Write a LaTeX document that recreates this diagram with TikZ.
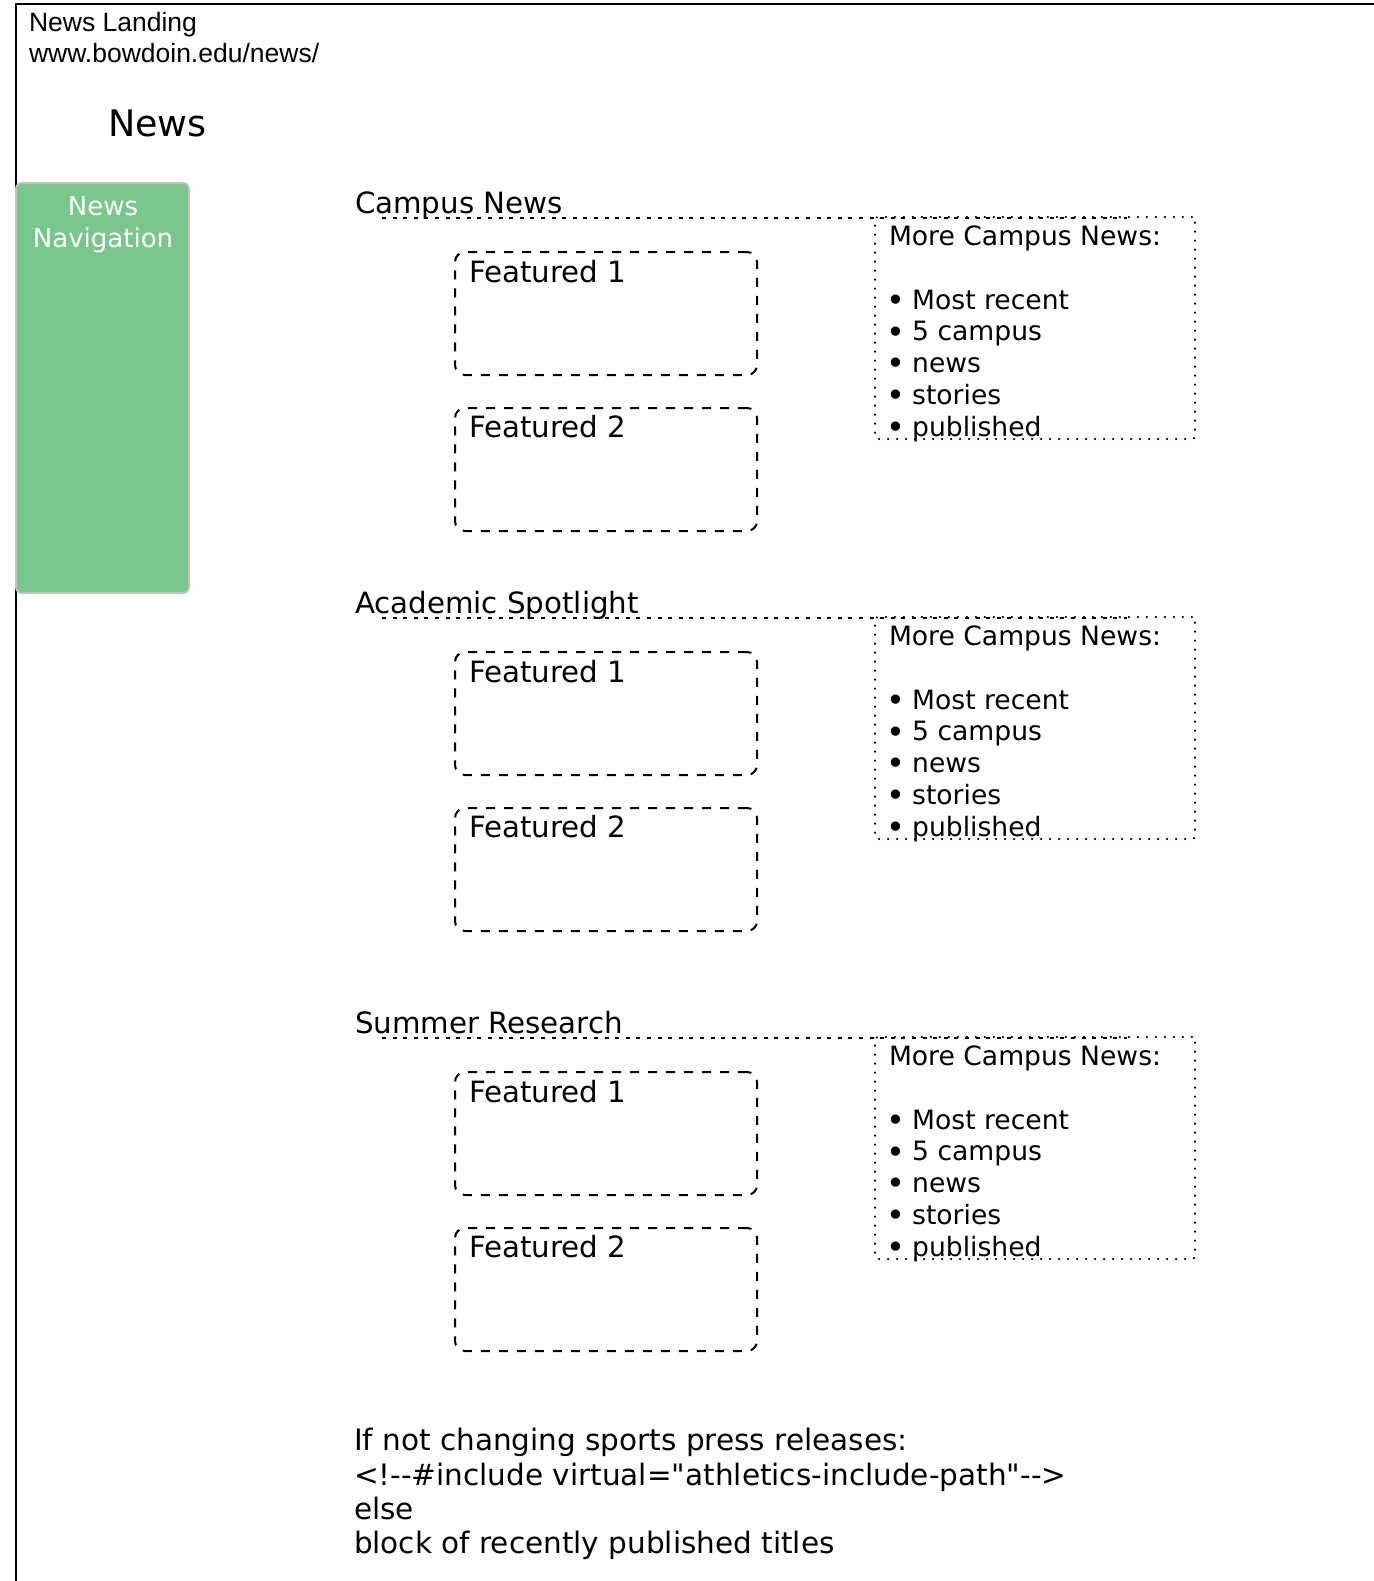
\documentclass[tikz,border=0pt]{standalone}
\usepackage{fontspec}
\setmainfont{DejaVu Sans}
\newfontfamily\arialfont{Liberation Sans}
\newfontfamily\rawfont{DejaVu Sans}
\definecolor{navgreen}{RGB}{121,199,140}
\definecolor{navborder}{RGB}{195,195,195}
\newcommand{\bigbul}{\makebox[15.7pt][c]{\raisebox{-2.2pt}{\fontsize{32}{32}\selectfont\textbullet}}}
\begin{document}
\begin{tikzpicture}[x=1pt,y=-1pt,
  txt/.style={anchor=base west, inner sep=0pt, outer sep=0pt},
  ctxt/.style={anchor=base, inner sep=0pt, outer sep=0pt},
  featbox/.style={draw, line width=2pt, dash pattern=on 9pt off 9pt, rounded corners=10pt,
    minimum width=302pt, minimum height=123pt, anchor=north west, inner sep=0pt, outer sep=0pt},
  morebox/.style={draw, line width=2pt, line cap=round, dash pattern=on 0.5pt off 8.5pt, rounded corners=3pt,
    minimum width=320pt, minimum height=222pt, anchor=north west, inner sep=0pt, outer sep=0pt},
  titleline/.style={line width=2pt, dash pattern=on 4pt off 6.6pt},
  navbox/.style={draw=navborder, fill=navgreen, line width=2pt, rounded corners=6pt,
    minimum width=173pt, minimum height=410pt, anchor=north west, inner sep=0pt, outer sep=0pt},
  f29/.style={font=\fontsize{29.3}{34}\selectfont},
  f26/.style={font=\fontsize{26.6}{32}\selectfont},
  fbot/.style={font=\rawfont\fontsize{29.5}{34}\selectfont},
]
\useasboundingbox (0,0) rectangle (1373,1581);
\fill[white] (0,0) rectangle (1373,1581);

% outer frame
\coordinate (frTR) at (1380,4);
\coordinate (frTL) at (16,4);
\coordinate (frBL) at (16,1590);
\draw[line width=2.5pt] (frTR) -- (frTL) -- (frBL);

% header texts
\node[txt, font=\arialfont\fontsize{26.5}{31}\selectfont] (hd1) at (29,32) {News Landing};
\node[txt, font=\arialfont\fontsize{26.5}{31}\selectfont] (hd2) at (29,63) {www.bowdoin.edu/news/};
\node[txt, font=\fontsize{36.5}{40}\selectfont] (newsT) at (108,137) {News};

% navigation box
\node[navbox] (nav) at (16,183) {};
\node[ctxt, text=white, font=\fontsize{26}{32}\selectfont] (nav1) at (103,215) {News};
\node[ctxt, text=white, font=\fontsize{26}{32}\selectfont] (nav2) at (103,247) {Navigation};

% sections
\foreach \dy/\t/\n in {0/Campus News/a, 400/Academic Spotlight/b, 820/Summer Research/c}{
  \node[txt, f29] (title\n) at (355,213+\dy) {\t};
  \coordinate (ls\n) at (382,218+\dy);
  \coordinate (le\n) at (1127,218+\dy);
  \draw[titleline] (ls\n) -- (le\n);
  \node[featbox] (fa\n) at (455,252+\dy) {};
  \node[txt, f29] (fat\n) at (469,282+\dy) {Featured 1};
  \node[featbox] (fb\n) at (455,408+\dy) {};
  \node[txt, f29] (fbt\n) at (469,437+\dy) {Featured 2};
  \node[morebox] (more\n) at (875,217+\dy) {};
  \node[txt, f26] (mt\n) at (889,245+\dy) {More Campus News:};
  \foreach \k/\w in {0/Most recent, 1/5 campus, 2/news, 3/stories, 4/published}{
    \node[txt, f26] (bl\n\k) at (888,309+\dy+31.8*\k) {\bigbul\ \w};
  }
}

% bottom text
\node[txt, fbot] (bt1) at (354,1450) {If not changing sports press releases:};
\node[txt, fbot] (bt2) at (354,1485) {<!--\#include virtual="athletics-include-path"-->};
\node[txt, fbot] (bt3) at (354,1519) {else};
\node[txt, fbot] (bt4) at (354,1553) {block of recently published titles};
\end{tikzpicture}
\end{document}
